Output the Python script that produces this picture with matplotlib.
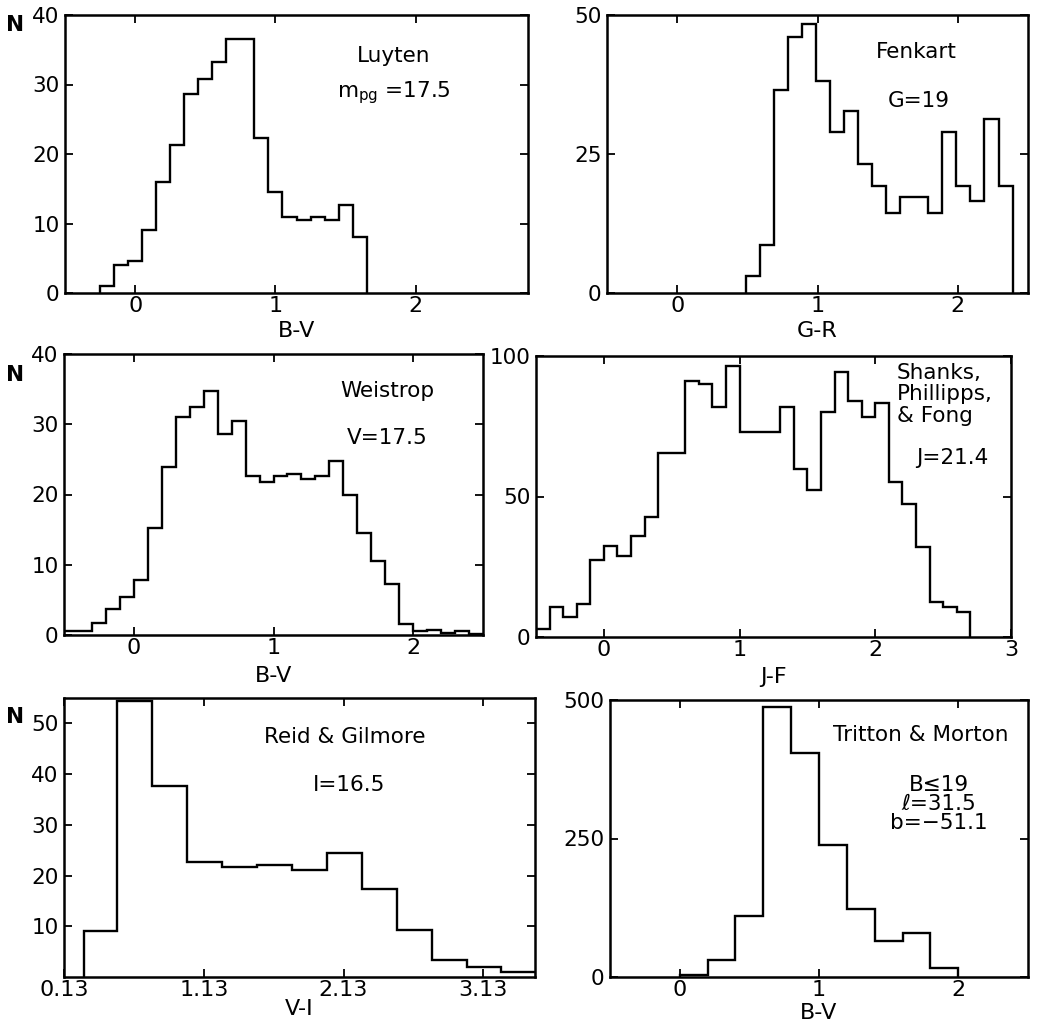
import matplotlib
matplotlib.use("Agg")
import matplotlib.pyplot as plt
import numpy as np

plt.rcParams['font.family'] = ['DejaVu Sans']
plt.rcParams['mathtext.default'] = 'regular'

# ---------------- data ----------------
luyten_edges = [-0.25, -0.15, -0.05, 0.05, 0.15, 0.25, 0.35, 0.45, 0.55, 0.65, 0.75,
                0.85, 0.95, 1.05, 1.15, 1.25, 1.35, 1.45, 1.55, 1.65]
luyten_counts = [1.0, 4.1, 4.6, 9.1, 16.0, 21.3, 28.6, 30.8, 33.2, 36.5, 36.5,
                 22.3, 14.5, 11.0, 10.5, 11.0, 10.5, 12.6, 8.0]

fenkart_edges = [0.49, 0.59, 0.69, 0.79, 0.89, 0.99, 1.09, 1.19, 1.29, 1.39, 1.49,
                 1.59, 1.69, 1.79, 1.89, 1.99, 2.09, 2.19, 2.29, 2.39]
fenkart_counts = [3.1, 8.7, 36.5, 46.1, 48.3, 38.1, 29.0, 32.8, 23.2, 19.2, 14.4,
                  17.2, 17.2, 14.4, 29.0, 19.3, 16.5, 31.3, 19.3]

weistrop_edges = [-0.5, -0.4, -0.3, -0.2, -0.1, 0.0, 0.1, 0.2, 0.3, 0.4, 0.5, 0.6,
                  0.7, 0.8, 0.9, 1.0, 1.1, 1.2, 1.3, 1.4, 1.5, 1.6, 1.7, 1.8, 1.9,
                  2.0, 2.1, 2.2, 2.3, 2.4, 2.5]
weistrop_counts = [0.5, 0.5, 1.7, 3.7, 5.4, 7.9, 15.2, 23.9, 31.1, 32.5, 34.8, 28.6,
                   30.5, 22.7, 21.8, 22.7, 22.9, 22.2, 22.7, 24.7, 19.9, 14.5, 10.6,
                   7.2, 1.6, 0.6, 0.7, 0.3, 0.6, 0.15]

shanks_edges = [-0.5, -0.4, -0.3, -0.2, -0.1, 0.0, 0.1, 0.2, 0.3, 0.4, 0.5, 0.6, 0.7,
                0.8, 0.9, 1.0, 1.1, 1.2, 1.3, 1.4, 1.5, 1.6, 1.7, 1.8, 1.9, 2.0, 2.1,
                2.2, 2.3, 2.4, 2.5, 2.6, 2.7]
shanks_counts = [3.0, 10.7, 7.1, 11.8, 27.5, 32.5, 28.7, 36.1, 42.8, 65.4, 65.4, 91.2,
                 89.9, 81.8, 96.4, 73.1, 72.9, 72.9, 81.8, 59.7, 52.4, 79.9, 94.2,
                 84.1, 78.2, 83.2, 55.3, 47.4, 32.0, 12.3, 10.5, 8.8]

reid_edges = [0.27, 0.51, 0.76, 1.01, 1.26, 1.51, 1.76, 2.01, 2.26, 2.51, 2.76, 3.01,
              3.26, 3.51]
reid_counts = [9.0, 54.4, 37.6, 22.7, 21.6, 22.0, 21.1, 24.4, 17.3, 9.3, 3.3, 2.0, 1.0]

tritton_edges = [0.0, 0.2, 0.4, 0.6, 0.8, 1.0, 1.2, 1.4, 1.6, 1.8, 2.0]
tritton_counts = [3, 31, 110, 487, 404, 239, 122, 65, 80, 16]

# ---------------- figure ----------------
W, H = 1041, 1029
fig = plt.figure(figsize=(W / 100, H / 100), dpi=100)


def make_axes(l, r, t, b):
    ax = fig.add_axes([l / W, 1 - b / H, (r - l) / W, (b - t) / H])
    ax._hpx = b - t
    return ax


XTICK_FS = 16
YTICK_FS = 15.5
LAB_FS = 16
TXT_FS = 15.5
LW = 1.7


def style(ax, xlim, ylim, xticks, yticks, xticklabels=None, xlabel='', lab_off=34):
    ax.set_xlim(*xlim)
    ax.set_ylim(*ylim)
    ax.set_xticks(xticks)
    if xticklabels is not None:
        ax.set_xticklabels(xticklabels)
    ax.set_yticks(yticks)
    ax.tick_params(direction='in', top=True, right=True, length=6, width=1.3)
    ax.tick_params(axis='x', labelsize=XTICK_FS, pad=2)
    ax.tick_params(axis='y', labelsize=YTICK_FS, pad=4)
    for s in ax.spines.values():
        s.set_linewidth(1.8)
    ax.text(0.5, -lab_off / ax._hpx, xlabel, transform=ax.transAxes, ha='center',
            va='center', fontsize=LAB_FS)


def note(ax, x, y, s, **kw):
    ax.text(x, y, s, transform=ax.transAxes, ha=kw.pop('ha', 'center'),
            va=kw.pop('va', 'center'), fontsize=TXT_FS, **kw)


# Panel 1: Luyten
ax1 = make_axes(65, 528, 15, 293)
ax1.stairs(luyten_counts, luyten_edges, color='black', lw=LW, baseline=0)
style(ax1, (-0.5, 2.8), (0, 40), [0, 1, 2], [0, 10, 20, 30, 40], xlabel='B-V', lab_off=38)
note(ax1, 0.71, 0.853, 'Luyten')
note(ax1, 0.71, 0.72, r'm$_{pg}$ =17.5')

# Panel 2: Fenkart
ax2 = make_axes(607, 1028, 15, 293)
ax2.stairs(fenkart_counts, fenkart_edges, color='black', lw=LW, baseline=0)
style(ax2, (-0.5, 2.5), (0, 50), [0, 1, 2], [0, 25, 50], xlabel='G-R', lab_off=38)
note(ax2, 0.734, 0.867, 'Fenkart')
note(ax2, 0.741, 0.69, 'G=19')

# Panel 3: Weistrop
ax3 = make_axes(64, 483, 354, 635)
ax3.stairs(weistrop_counts, weistrop_edges, color='black', lw=LW, baseline=0)
style(ax3, (-0.5, 2.5), (0, 40), [0, 1, 2], [0, 10, 20, 30, 40], xlabel='B-V', lab_off=41)
note(ax3, 0.771, 0.87, 'Weistrop')
note(ax3, 0.771, 0.70, 'V=17.5')

# Panel 4: Shanks, Phillipps, & Fong
ax4 = make_axes(536, 1011, 356, 637)
ax4.stairs(shanks_counts, shanks_edges, color='black', lw=LW, baseline=0)
style(ax4, (-0.5, 3.0), (0, 100), [0, 1, 2, 3], [0, 50, 100], xlabel='J-F', lab_off=40)
note(ax4, 0.76, 0.975, 'Shanks,\nPhillipps,\n& Fong', ha='left', va='top', linespacing=1.08)
note(ax4, 0.876, 0.637, 'J=21.4')

# Panel 5: Reid & Gilmore
ax5 = make_axes(64, 535, 698, 977)
ax5.stairs(reid_counts, reid_edges, color='black', lw=LW, baseline=0)
style(ax5, (0.13, 3.5), (0, 55), [0.13, 1.13, 2.13, 3.13], [10, 20, 30, 40, 50],
      xticklabels=['0.13', '1.13', '2.13', '3.13'], xlabel='V-I', lab_off=32)
note(ax5, 0.597, 0.86, 'Reid & Gilmore')
note(ax5, 0.605, 0.688, 'I=16.5')

# Panel 6: Tritton & Morton
ax6 = make_axes(610, 1028, 700, 977)
ax6.stairs(tritton_counts, tritton_edges, color='black', lw=LW, baseline=0)
style(ax6, (-0.5, 2.5), (0, 500), [0, 1, 2], [0, 250, 500], xlabel='B-V', lab_off=36)
note(ax6, 0.744, 0.874, 'Tritton & Morton')
note(ax6, 0.787, 0.625, 'B≤19\nℓ=31.5\nb=−51.1', linespacing=0.95)

# "N" labels
for yy in (25, 375, 717):
    fig.text(15 / W, 1 - yy / H, 'N', ha='center', va='center', fontsize=YTICK_FS,
             fontweight='bold')

fig.savefig('out.png', dpi=100)
